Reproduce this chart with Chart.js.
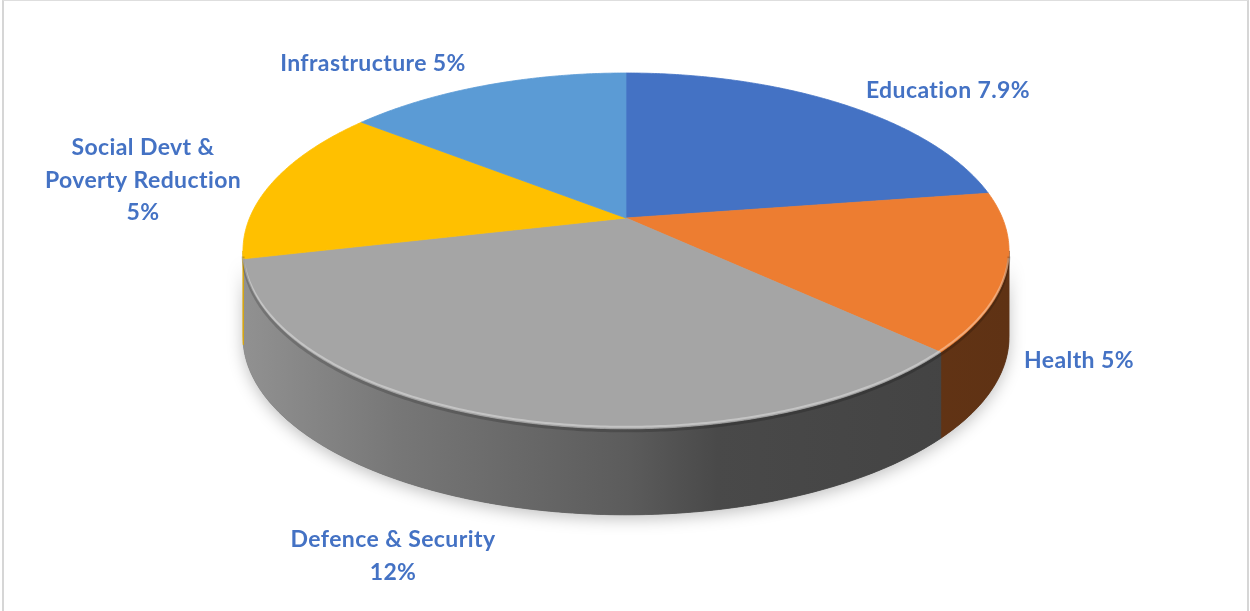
<!DOCTYPE html>
<html>
<head>
<meta charset="utf-8">
<script src="https://cdn.jsdelivr.net/npm/chart.js@4/dist/chart.umd.min.js"></script>
<style>
  html, body { margin:0; padding:0; background:#fff; }
  #wrap { position:relative; width:1250px; height:611px; overflow:hidden; }
  #frame { position:absolute; left:2px; top:0; width:1243px; height:640px;
           border-top:1px solid #dedede; border-left:2px solid #d6d6d6; border-right:2px solid #d6d6d6; }
  canvas { position:absolute; left:0; top:0; }
</style>
</head>
<body>
<div id="wrap">
  <div id="frame"></div>
  <canvas id="pie" width="1250" height="611"></canvas>
</div>
<script>
// ── data ─────────────────────────────────────────────
const categories = ["Education", "Health", "Defence & Security", "Social Devt & Poverty Reduction", "Infrastructure"];
const shares     = [7.9, 5, 12, 5, 5];
// how each label wraps (value goes on the last line or its own line)
const labelWrap  = [["Education"], ["Health"], ["Defence & Security", ""], ["Social Devt &", "Poverty Reduction", ""], ["Infrastructure"]];
const sliceColors = ["#4472C4", "#ED7D31", "#A5A5A5", "#FFC000", "#5B9BD5"];

// ── layout ───────────────────────────────────────────
const P     = 0.185;   // perspective strength
const KX    = 2.596;   // horizontal stretch of the disc
const KY    = 1 + P;   // vertical stretch
const DEPTH = 0.593;   // side height, in radii
const labelSpots = [[948, 98], [1079, 368], [393, 547], [143, 155], [373, 71]];
const LINE_GAP = 32.5;
const LABEL_FONT = "bold 23px Lato, 'Open Sans', sans-serif";
const LABEL_COLOR = "#4472C4";

function proj(a, th, dy) {
    const s = Math.sin(th), c = Math.cos(th), den = 1 - P*s;
    return [a.x + a.outerRadius*KX*c/den, a.y + a.outerRadius*KY*s/den + (dy||0)];
}
function shade(hex, f) {
    const n = parseInt(hex.slice(1), 16);
    const r = Math.round(((n>>16)&255)*f), g = Math.round(((n>>8)&255)*f), b = Math.round((n&255)*f);
    return "rgb("+r+","+g+","+b+")";
}
function arcPts(a, s, e, dy) {
    const pts = [], n = Math.max(2, Math.ceil((e-s)/0.01));
    for (let i=0;i<=n;i++) pts.push(proj(a, s+(e-s)*i/n, dy));
    return pts;
}

// ── 3D pie plugin ────────────────────────────────────
const pie3d = {
    id: "pie3d",
    beforeDatasetDraw() { return false; },   // the default flat arcs are replaced below
    afterDatasetsDraw(chart) {
        const ctx = chart.ctx;
        const arcs = chart.getDatasetMeta(0).data;
        if (!arcs.length) return;
        const a0 = arcs[0];
        const D = a0.outerRadius*DEPTH;
        const visA = Math.asin(P), visB = Math.PI - Math.asin(P);
        const left = proj(a0, Math.PI - Math.asin(P))[0], right = proj(a0, Math.asin(P))[0];

        ctx.save();
        // soft shadow under the whole disc
        const rim = arcPts(a0, visA, visB, 0);
        const bot = arcPts(a0, visA, visB, D).reverse();
        ctx.beginPath();
        rim.forEach((p,i)=> i? ctx.lineTo(p[0],p[1]) : ctx.moveTo(p[0],p[1]));
        bot.forEach(p=>ctx.lineTo(p[0],p[1]));
        ctx.closePath();
        ctx.shadowColor = "rgba(0,0,0,0.25)"; ctx.shadowBlur = 16; ctx.shadowOffsetY = 4;
        ctx.fillStyle = "#555"; ctx.fill();
        ctx.shadowColor = "transparent";

        // side walls
        arcs.forEach((a, i) => {
            const s = Math.max(a.startAngle, visA), e = Math.min(a.endAngle, visB);
            if (e <= s) return;
            const g = ctx.createLinearGradient(left, 0, right, 0);
            const base = sliceColors[i];
            g.addColorStop(0,    shade(base, 0.88));
            g.addColorStop(0.2,  shade(base, 0.72));
            g.addColorStop(0.5,  shade(base, 0.56));
            g.addColorStop(0.62, shade(base, 0.44));
            g.addColorStop(1,    shade(base, 0.40));
            const top = arcPts(a, s, e, 0), btm = arcPts(a, s, e, D).reverse();
            ctx.beginPath();
            top.forEach((p,k)=> k? ctx.lineTo(p[0],p[1]) : ctx.moveTo(p[0],p[1]));
            btm.forEach(p=>ctx.lineTo(p[0],p[1]));
            ctx.closePath();
            ctx.fillStyle = g; ctx.fill();
            ctx.strokeStyle = g; ctx.lineWidth = 0.8; ctx.stroke();
        });

        // top faces
        arcs.forEach((a, i) => {
            const pts = arcPts(a, a.startAngle, a.endAngle, 0);
            ctx.beginPath();
            ctx.moveTo(a.x, a.y);
            pts.forEach(p=>ctx.lineTo(p[0],p[1]));
            ctx.closePath();
            ctx.fillStyle = sliceColors[i]; ctx.fill();
            ctx.strokeStyle = sliceColors[i]; ctx.lineWidth = 0.8; ctx.stroke();
        });

        // bevel highlight along the front rim
        ctx.beginPath();
        arcPts(a0, visA + 0.05, visB - 0.05, -2).forEach((p,k)=> k? ctx.lineTo(p[0],p[1]) : ctx.moveTo(p[0],p[1]));
        ctx.strokeStyle = "rgba(255,255,255,0.35)"; ctx.lineWidth = 2; ctx.stroke();
        ctx.beginPath();
        arcPts(a0, visA + 0.02, visB - 0.02, 2).forEach((p,k)=> k? ctx.lineTo(p[0],p[1]) : ctx.moveTo(p[0],p[1]));
        ctx.strokeStyle = "rgba(0,0,0,0.18)"; ctx.lineWidth = 3; ctx.stroke();

        // data labels
        ctx.font = LABEL_FONT; ctx.fillStyle = LABEL_COLOR;
        ctx.letterSpacing = "0.4px";
        ctx.textAlign = "center"; ctx.textBaseline = "alphabetic";
        chart.data.labels.forEach((lab, i) => {
            const val = chart.data.datasets[0].data[i] + "%";
            const lines = labelWrap[i].map((t, k, arr) => k === arr.length-1 ? (t ? t + " " + val : val) : t);
            const [lx, ly] = labelSpots[i];
            lines.forEach((t, k) => ctx.fillText(t, lx, ly + k*LINE_GAP));
        });
        ctx.restore();
    }
};

new Chart(document.getElementById("pie"), {
    type: "pie",
    data: {
        labels: categories,
        datasets: [{ data: shares, backgroundColor: sliceColors, borderWidth: 0 }]
    },
    options: {
        responsive: false,
        animation: false,
        layout: { padding: { top: 73, bottom: 248, left: 2, right: 0 } },
        plugins: { legend: { display: false }, tooltip: { enabled: false } }
    },
    plugins: [pie3d]
});
</script>
</body>
</html>
